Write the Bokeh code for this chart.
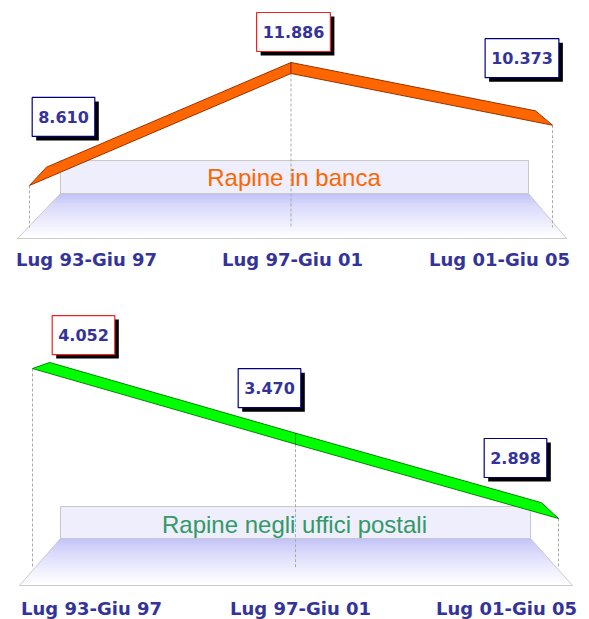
import numpy as np
from bokeh.plotting import figure
from bokeh.models import Range1d
from bokeh.embed import file_html
from bokeh.resources import INLINE
from bokeh.core.properties import value

# ---------------- data ----------------
periods = ["Lug 93-Giu 97", "Lug 97-Giu 01", "Lug 01-Giu 05"]
rapine_banca = [8610, 11886, 10373]
rapine_poste = [4052, 3470, 2898]
banca_text = ["8.610", "11.886", "10.373"]
poste_text = ["4.052", "3.470", "2.898"]
titles = ["Rapine in banca", "Rapine negli uffici postali"]

# ---------------- layout / style ----------------
W, H = 589, 619
OX, OY = 0, 0           # page pixel offset of the drawing
NAVY = "#333399"
K_DEPTH = 0.935          # perspective shrink of ribbon back edge
LIFT = 11                # px lift of the ribbon back edge

panels = [
    dict(values=rapine_banca, texts=banca_text, title=titles[0],
         x0=29, dx=261.5, yaxis=(7000, 240.0, 12000, 69.1),
         fill="#ff6600", edge="#993300", title_color="#ff6600",
         floor=dict(yb=193, yf=238, xlb=60, xrb=528, xlf=17, xrf=566),
         banner_top=160, title_pos=(293.5, 177), drop_to=227,
         label_pos=[(86, 259), (292, 259), (499, 259)],
         box_off=[(34, -68.5), (2.5, -41.5), (-30.5, -67)]),
    dict(values=rapine_poste, texts=poste_text, title=titles[1],
         x0=32, dx=263.0, yaxis=(2500, 569.7, 4000, 374.8),
         fill="#00ff00", edge="#008800", title_color="#339966",
         floor=dict(yb=538, yf=585, xlb=60, xrb=530, xlf=19, xrf=572),
         banner_top=506, title_pos=(294, 523.5), drop_to=568,
         label_pos=[(91, 607.5), (300, 607.5), (506, 607.5)],
         box_off=[(51, -33.5), (-26, -56), (-43, -60.5)]),
]

p = figure(width=W, height=H,
           x_range=Range1d(OX, OX + W), y_range=Range1d(OY + H, OY),
           x_axis_location=None, y_axis_location=None,
           toolbar_location=None, output_backend="svg",
           min_border=0, outline_line_color=None)
p.grid.visible = False
p.background_fill_color = "white"
p.border_fill_color = "white"

extra_x, extra_y = {}, {}
for n, pn in enumerate(panels):
    v1, y1, v2, y2 = pn["yaxis"]
    ppu = (y1 - y2) / (v2 - v1)
    pn["ppu"] = ppu
    pn["v_at"] = (lambda y, v1=v1, y1=y1, ppu=ppu: v1 + (y1 - y) / ppu)
    extra_x["x%d" % n] = Range1d((OX - pn["x0"]) / pn["dx"], (OX + W - pn["x0"]) / pn["dx"])
    extra_y["y%d" % n] = Range1d(pn["v_at"](OY + H), pn["v_at"](OY))
p.extra_x_ranges = extra_x
p.extra_y_ranges = extra_y

top_c = np.array([192, 192, 248.0])
white = np.array([255, 255, 255.0])

for n, pn in enumerate(panels):
    xr, yr = "x%d" % n, "y%d" % n
    vals = np.array(pn["values"], dtype=float)
    idx = np.arange(len(vals), dtype=float)
    f = pn["floor"]

    # floor with vertical gradient
    nstr = 46
    xs, ys, cols = [], [], []
    for k in range(nstr):
        t0, t1 = k / nstr, min(1.0, (k + 1.6) / nstr)
        ya = f["yb"] + t0 * (f["yf"] - f["yb"])
        yb = f["yb"] + t1 * (f["yf"] - f["yb"])
        la = f["xlb"] + t0 * (f["xlf"] - f["xlb"]); ra = f["xrb"] + t0 * (f["xrf"] - f["xrb"])
        lb = f["xlb"] + t1 * (f["xlf"] - f["xlb"]); rb = f["xrb"] + t1 * (f["xrf"] - f["xrb"])
        xs.append([la, ra, rb, lb]); ys.append([ya, ya, yb, yb])
        c = top_c + (white - top_c) * (k / (nstr - 1)) ** 0.75
        cols.append("#%02x%02x%02x" % tuple(int(round(v)) for v in c))
    p.patches(xs, ys, fill_color=cols, line_color=None)
    p.patch([f["xlb"], f["xrb"], f["xrf"], f["xlf"]], [f["yb"], f["yb"], f["yf"], f["yf"]],
            fill_color=None, line_color="#cccccc", line_width=1)

    # banner (back wall)
    p.quad(left=[f["xlb"]], right=[f["xrb"]], top=[pn["banner_top"]], bottom=[f["yb"]],
           fill_color="#eeeefc", line_color="#c8c8c8", line_width=1)

    # dashed drop lines
    p.segment(x0=idx, y0=vals, x1=idx, y1=[pn["v_at"](pn["drop_to"])] * len(vals),
              line_color="#aaaaaa", line_dash="3 2", line_width=1,
              x_range_name=xr, y_range_name=yr)

    # title on the banner
    tx, ty = pn["title_pos"]
    p.text(x=[tx], y=[ty], text=[pn["title"]], text_align="center", text_baseline="middle",
           text_font=value("Liberation Sans"), text_font_size="24px", text_color=pn["title_color"])

    # ribbon
    mid = (len(vals) - 1) / 2.0
    bx = mid + (idx - mid) * K_DEPTH
    by = np.interp(bx, idx, vals) + LIFT / pn["ppu"]
    rxs, rys = [], []
    for j in range(len(vals) - 1):
        rxs.append([idx[j], idx[j + 1], bx[j + 1], bx[j]])
        rys.append([vals[j], vals[j + 1], by[j + 1], by[j]])
    p.patches(rxs, rys, fill_color=pn["fill"], line_color=pn["edge"], line_width=1,
              line_join="miter", x_range_name=xr, y_range_name=yr)

    # value boxes
    offs = np.array(pn["box_off"], dtype=float)
    cx = idx + offs[:, 0] / pn["dx"]
    cy = vals - offs[:, 1] / pn["ppu"]
    widths = [12 + 16 * (0.696 * sum(ch.isdigit() for ch in t) + 0.38) for t in pn["texts"]]
    vmax = vals.max()
    borders = ["#ee2222" if v == vmax else "#000080" for v in vals]
    p.rect(x=cx + 4 / pn["dx"], y=cy - 4 / pn["ppu"], width=widths, height=[39] * len(vals),
           width_units="screen", height_units="screen", fill_color="black", line_color=None,
           x_range_name=xr, y_range_name=yr)
    p.rect(x=cx, y=cy, width=widths, height=[39] * len(vals),
           width_units="screen", height_units="screen", fill_color="white",
           line_color=borders, line_width=1.2, x_range_name=xr, y_range_name=yr)
    p.text(x=cx, y=cy, text=pn["texts"], text_align="center", text_baseline="middle",
           text_font=value("DejaVu Sans"), text_font_size="16px", text_font_style="bold",
           text_color=NAVY, x_range_name=xr, y_range_name=yr)

    # category labels
    lx = [a for a, b in pn["label_pos"]]
    ly = [b for a, b in pn["label_pos"]]
    p.text(x=lx, y=ly, text=periods, text_align="center", text_baseline="middle",
           text_font=value("DejaVu Sans"), text_font_size="18px", text_font_style="bold",
           text_color=NAVY)

open("out.html", "w").write(file_html(p, INLINE))
